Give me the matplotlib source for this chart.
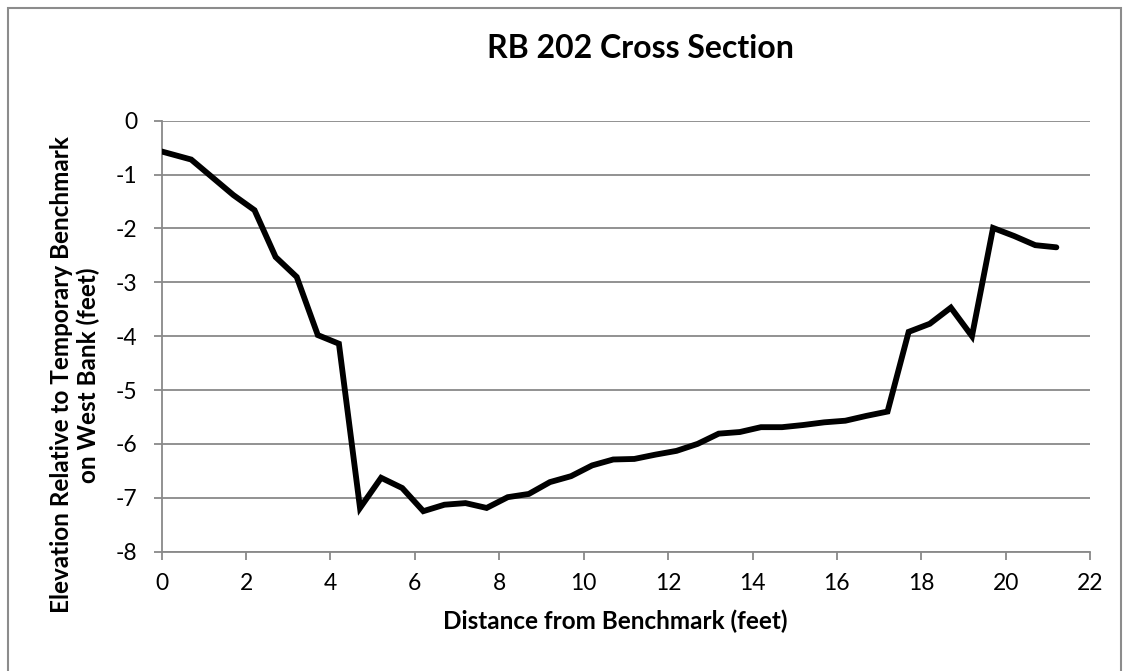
import matplotlib.pyplot as plt
from matplotlib.patches import Rectangle

# station distance from benchmark (feet) and surveyed elevation (feet)
distance = [0.0, 0.7, 1.2, 1.7, 2.2, 2.7, 3.2, 3.7, 4.2, 4.7, 5.2, 5.7, 6.2, 6.7,
            7.2, 7.7, 8.2, 8.7, 9.2, 9.7, 10.2, 10.7, 11.2, 11.7, 12.2, 12.7,
            13.2, 13.7, 14.2, 14.7, 15.2, 15.7, 16.2, 16.7, 17.2, 17.7, 18.2,
            18.7, 19.2, 19.7, 20.2, 20.7, 21.2]
elevation = [-0.57, -0.72, -1.05, -1.38, -1.66, -2.53, -2.90, -3.98, -4.14, -7.19,
             -6.63, -6.82, -7.25, -7.13, -7.10, -7.19, -6.99, -6.93, -6.71, -6.60,
             -6.40, -6.29, -6.28, -6.20, -6.13, -6.00, -5.81, -5.78, -5.69, -5.69,
             -5.65, -5.60, -5.57, -5.48, -5.40, -3.92, -3.77, -3.47, -4.00, -1.99,
             -2.14, -2.31, -2.35]

x_ticks = list(range(0, 23, 2))
y_ticks = list(range(-8, 1))

plt.rcParams['font.family'] = ['Lato', 'DejaVu Sans']
plt.rcParams['axes.unicode_minus'] = False
grid_col = '#898989'

fig = plt.figure(figsize=(11.25, 6.71), dpi=100)
ax = fig.add_axes([0.1437, 0.178, 0.8253, 0.642])

ax.plot(distance, elevation, color='black', linewidth=4.2,
        solid_joinstyle='miter', solid_capstyle='round', zorder=3)

ax.set_xlim(0, 22)
ax.set_ylim(-8, 0)
ax.set_xticks(x_ticks)
ax.set_yticks(y_ticks)
ax.grid(axis='y', color=grid_col, linewidth=1.3)
ax.set_axisbelow(True)
for side in ['top', 'right']:
    ax.spines[side].set_visible(False)
for side in ['left', 'bottom']:
    ax.spines[side].set_color(grid_col)
    ax.spines[side].set_linewidth(1.3)
ax.tick_params(colors=grid_col, labelcolor='black', labelsize=16.5,
               length=5.5, width=1.3)
ax.tick_params(axis='x', pad=10)
ax.tick_params(axis='y', pad=12)

ax.set_xlabel('Distance from Benchmark (feet)', fontsize=17.5, fontweight='bold')
ax.xaxis.set_label_coords(0.488, -0.163)
ax.xaxis.label.set_va('center')
ax.set_ylabel('Elevation Relative to Temporary Benchmark\non West Bank (feet)',
              fontsize=17.5, fontweight='bold', linespacing=1.15)
ax.yaxis.set_label_coords(-0.0934, 0.41)
ax.yaxis.label.set_va('center')

fig.text(0.569, 0.927, 'RB 202 Cross Section', ha='center', va='center',
         fontsize=23, fontweight='bold')

# chart-area border
fig.patches.append(Rectangle((8 / 1125, -0.1), 1113 / 1125, 1.1 - 8 / 671,
                             transform=fig.transFigure, fill=False,
                             edgecolor='#8c8c8c', linewidth=1.5))

fig.savefig('out.png', dpi=100)
